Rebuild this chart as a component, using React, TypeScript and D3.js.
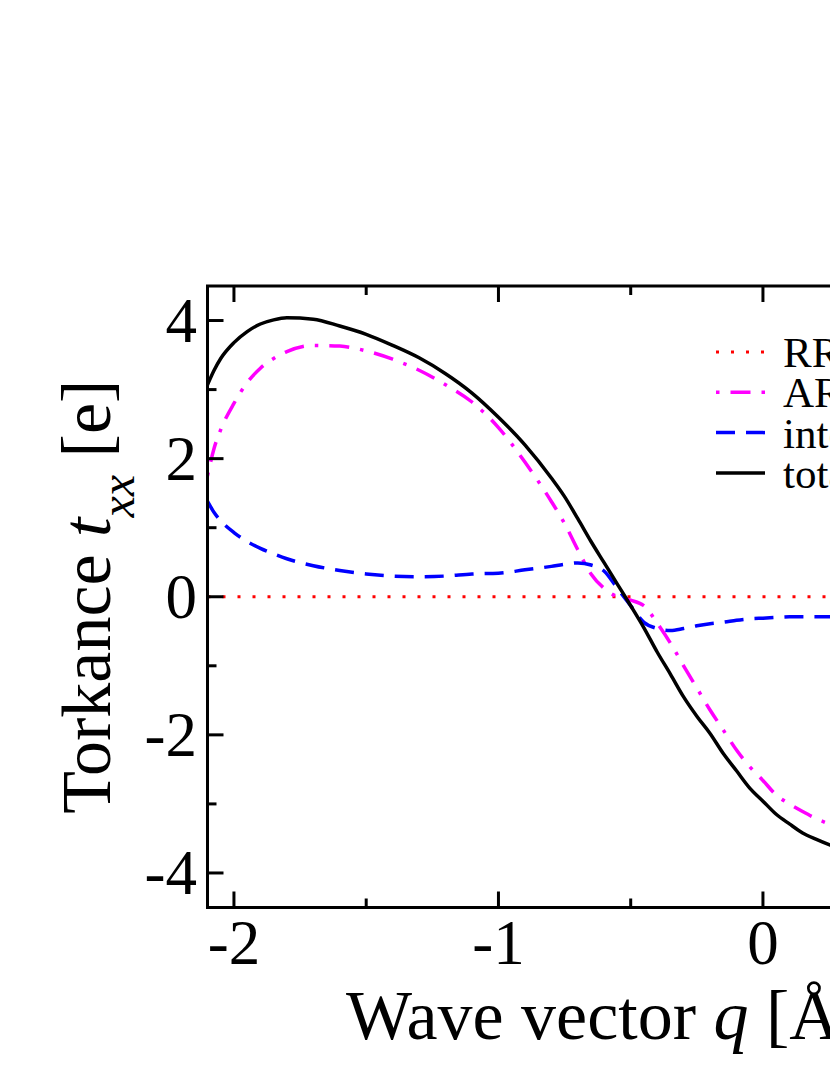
import { useMemo } from 'react';
import * as d3 from 'd3';

// wave vector q [1/Å]
const qValues = [
  -2.1, -2.075, -2.05, -2.0, -1.95, -1.9, -1.85, -1.8, -1.7, -1.6, -1.5, -1.4, -1.3, -1.2, -1.1,
  -1.0, -0.9, -0.8, -0.75, -0.7, -0.65, -0.6, -0.55, -0.5, -0.45, -0.4, -0.35, -0.3, -0.25, -0.2,
  -0.15, -0.1, -0.05, 0, 0.05, 0.1, 0.15, 0.2, 0.25, 0.3,
];

const rrValues = qValues.map(() => 0);

const arValues = [
  1.75, 2.15, 2.42, 2.8, 3.1, 3.31, 3.45, 3.55, 3.64, 3.63, 3.56, 3.44, 3.28, 3.07, 2.82,
  2.45, 1.95, 1.38, 1.06, 0.68, 0.33, 0.12, 0.0, -0.05, -0.13, -0.38, -0.67, -1.0, -1.32, -1.64,
  -1.93, -2.22, -2.46, -2.66, -2.87, -3.0, -3.11, -3.21, -3.29, -3.36,
];

const interValues = [
  1.38, 1.22, 1.1, 0.93, 0.8, 0.7, 0.62, 0.55, 0.45, 0.38, 0.33, 0.3, 0.29, 0.3, 0.33,
  0.34, 0.39, 0.44, 0.47, 0.49, 0.46, 0.37, 0.12, -0.13, -0.37, -0.46, -0.49, -0.46, -0.42, -0.39,
  -0.37, -0.34, -0.32, -0.31, -0.3, -0.29, -0.29, -0.29, -0.29, -0.29,
];

const totalValues = [
  3.07, 3.28, 3.45, 3.68, 3.84, 3.95, 4.01, 4.04, 4.02, 3.92, 3.8, 3.64, 3.46, 3.23, 2.95,
  2.6, 2.2, 1.72, 1.45, 1.13, 0.8, 0.49, 0.18, -0.13, -0.45, -0.8, -1.12, -1.45, -1.73, -1.98,
  -2.27, -2.52, -2.77, -2.96, -3.15, -3.29, -3.42, -3.51, -3.59, -3.66,
];

const seriesNames = ['RR', 'AR', 'interference', 'total'];

const xMajorTicks = [-2, -1, 0, 1, 2];
const xMinorTicks = [-1.5, -0.5, 0.5, 1.5];
const yMajorTicks = [-4, -2, 0, 2, 4];
const yMinorTicks = [-3, -1, 1, 3];

const FONT = '"Liberation Serif", "Times New Roman", serif';
const LEFT = 207.5;
const UNIT = 264.5;
const TOP = 286;
const BOTTOM = 907.5;

export default function App() {
  const x = useMemo(() => d3.scaleLinear().domain([-2.1, 2.1]).range([LEFT, LEFT + 4.2 * UNIT]), []);
  const y = useMemo(() => d3.scaleLinear().domain([-4.5, 4.5]).range([BOTTOM, TOP]), []);
  const right = x(2.1);

  const line = d3
    .line<number>()
    .x((_, i) => x(qValues[i]))
    .y((d) => y(d))
    .curve(d3.curveMonotoneX);

  const series = [
    { name: seriesNames[0], values: rrValues, color: '#ff0000', dash: '3,12', width: 3 },
    { name: seriesNames[1], values: arValues, color: '#ff00ff', dash: '3.5,11,20,11', width: 3.5 },
    { name: seriesNames[2], values: interValues, color: '#0000ff', dash: '19,11', width: 3.5 },
    { name: seriesNames[3], values: totalValues, color: '#000000', dash: undefined, width: 3.5 },
  ];

  return (
    <svg
      width={830}
      height={1075}
      style={{ position: 'absolute', left: 0, top: 0, background: '#fff' }}
      fontFamily={FONT}
    >
      <defs>
        <clipPath id="plot">
          <rect x={LEFT} y={TOP} width={right - LEFT} height={BOTTOM - TOP} />
        </clipPath>
      </defs>

      <g clipPath="url(#plot)" fill="none">
        {series.map((s) => (
          <path
            key={s.name}
            d={line(s.values) ?? ''}
            stroke={s.color}
            strokeWidth={s.width}
            strokeDasharray={s.dash}
            strokeLinejoin="round"
          />
        ))}
      </g>

      {/* frame */}
      <rect x={LEFT} y={TOP} width={right - LEFT} height={BOTTOM - TOP} fill="none" stroke="#000" strokeWidth={3} />

      {/* x ticks, bottom and top */}
      <g stroke="#000" strokeWidth={3}>
        {xMajorTicks.map((t) => (
          <g key={`xM${t}`}>
            <line x1={x(t)} x2={x(t)} y1={BOTTOM} y2={BOTTOM - 16} />
            <line x1={x(t)} x2={x(t)} y1={TOP} y2={TOP + 16} />
          </g>
        ))}
        {xMinorTicks.map((t) => (
          <g key={`xm${t}`}>
            <line x1={x(t)} x2={x(t)} y1={BOTTOM} y2={BOTTOM - 9} />
            <line x1={x(t)} x2={x(t)} y1={TOP} y2={TOP + 9} />
          </g>
        ))}
        {yMajorTicks.map((t) => (
          <line key={`yM${t}`} x1={LEFT} x2={LEFT + 16} y1={y(t)} y2={y(t)} />
        ))}
        {yMinorTicks.map((t) => (
          <line key={`ym${t}`} x1={LEFT} x2={LEFT + 9} y1={y(t)} y2={y(t)} />
        ))}
      </g>

      {/* tick labels */}
      <g fontSize={63} fill="#000">
        {xMajorTicks.map((t) => (
          <text key={`xl${t}`} x={x(t)} y={964} textAnchor="middle">
            {t}
          </text>
        ))}
        {yMajorTicks.map((t) => (
          <text key={`yl${t}`} x={197} y={y(t)} dy="0.34em" textAnchor="end">
            {t}
          </text>
        ))}
      </g>

      {/* axis titles */}
      <text x={346} y={1039} fontSize={70} fill="#000">
        Wave vector <tspan fontStyle="italic">q</tspan> [Å<tspan fontSize={46} dy={-30}>-1</tspan>
        <tspan dy={30}>]</tspan>
      </text>
      <text
        transform={`translate(110, ${y(0)}) rotate(-90)`}
        textAnchor="middle"
        fontSize={70}
        fill="#000"
      >
        Torkance <tspan fontStyle="italic">t</tspan>
        <tspan fontStyle="italic" fontSize={48} dy={24}>
          xx
        </tspan>
        <tspan dy={-24}> [e]</tspan>
      </text>

      {/* legend */}
      <g>
        {series.map((s, i) => {
          const ly = 352 + i * 40.3;
          return (
            <g key={`lg${s.name}`}>
              <line
                x1={716}
                x2={765}
                y1={ly}
                y2={ly}
                stroke={s.color}
                strokeWidth={s.width}
                strokeDasharray={s.dash}
              />
              <text x={783} y={ly + 15} fontSize={43} fill="#000">
                {s.name}
              </text>
            </g>
          );
        })}
      </g>
    </svg>
  );
}
